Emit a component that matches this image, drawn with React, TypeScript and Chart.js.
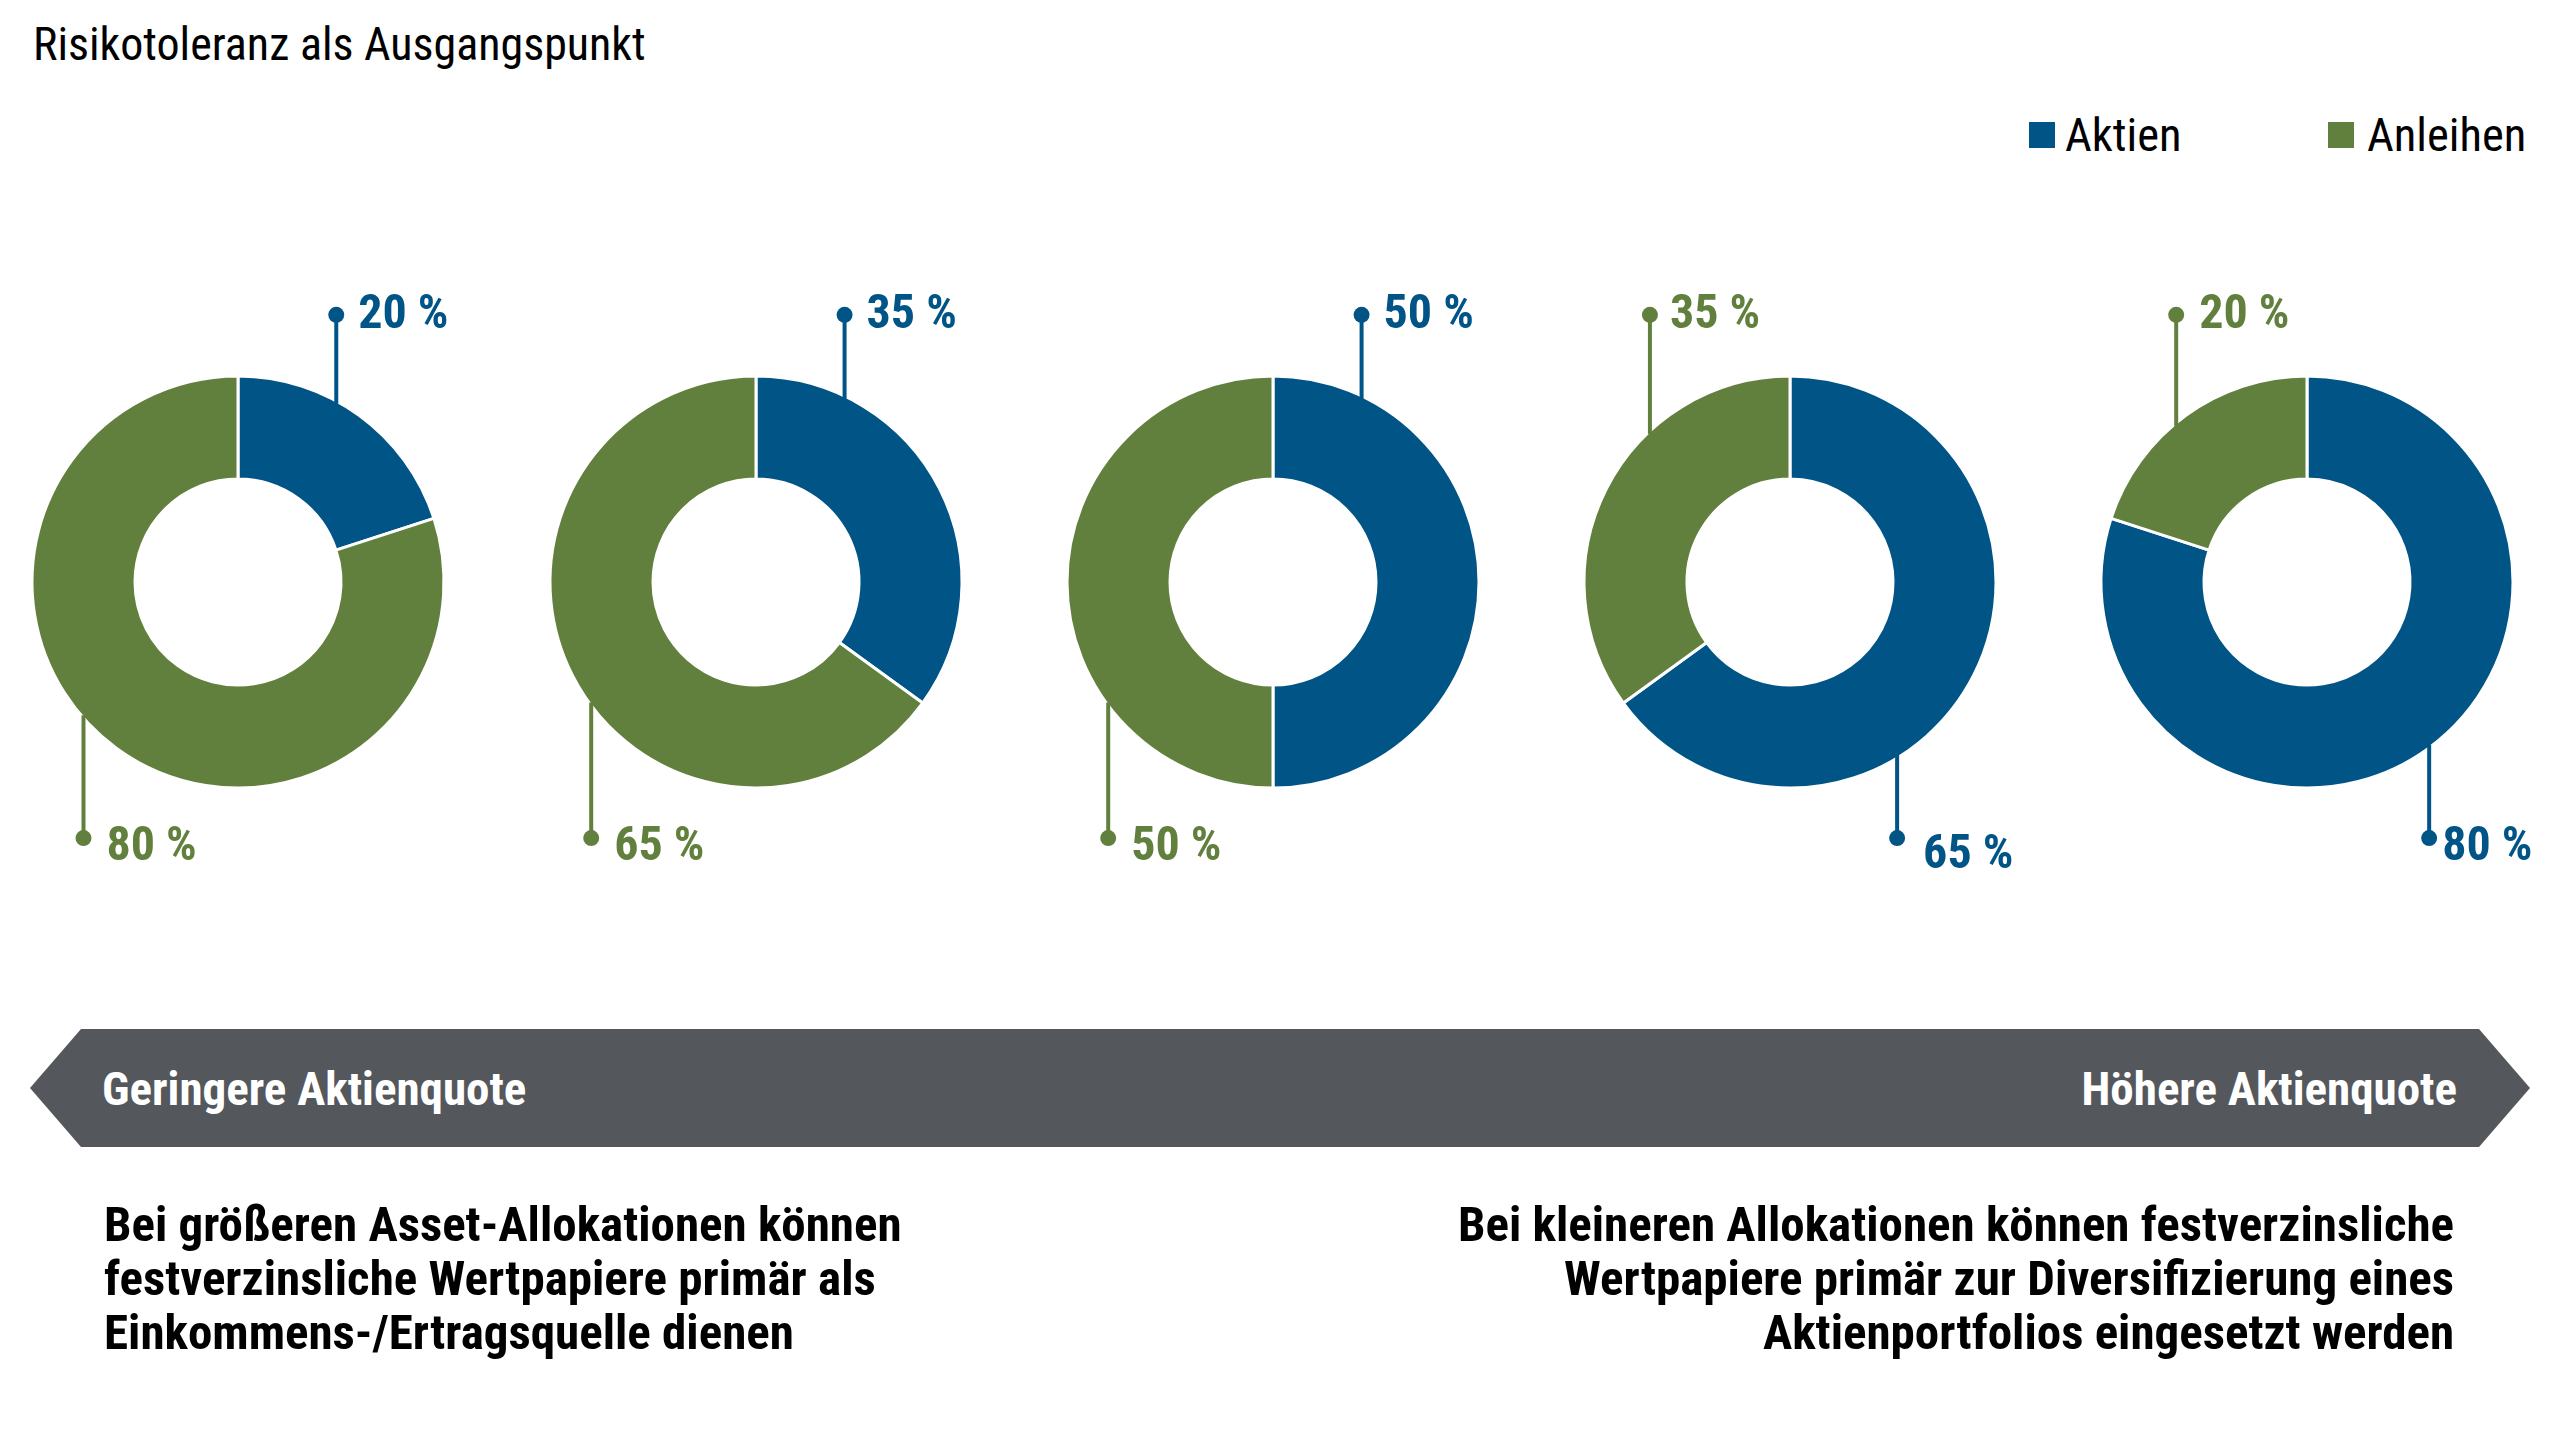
import React, { useEffect, useRef } from "react";
import { Chart, registerables } from "chart.js";

Chart.register(...registerables);

// ---------- data ----------
const seriesNames = ["Aktien", "Anleihen"];
const portfolios = ["Portfolio 1", "Portfolio 2", "Portfolio 3", "Portfolio 4", "Portfolio 5"];
const aktien = [20, 35, 50, 65, 80];
const anleihen = [80, 65, 50, 35, 20];
const topSeries = [0, 0, 0, 1, 1]; // series labelled above each donut
const titleText = "Risikotoleranz als Ausgangspunkt";
const arrowLeftText = "Geringere Aktienquote";
const arrowRightText = "Höhere Aktienquote";
const leftNote = [
  "Bei größeren Asset-Allokationen können",
  "festverzinsliche Wertpapiere primär als",
  "Einkommens-/Ertragsquelle dienen",
];
const rightNote = [
  "Bei kleineren Allokationen können festverzinsliche",
  "Wertpapiere primär zur Diversifizierung eines",
  "Aktienportfolios eingesetzt werden",
];

// ---------- layout / style ----------
const BLUE = "#005486";
const GREEN = "#62803D";
const GRAY = "#54575C";
const COLORS = [BLUE, GREEN];
const FONT = '"Roboto Condensed", "Liberation Sans Narrow", "DejaVu Sans Condensed", Roboto, sans-serif';

const centersX = [238, 756, 1273, 1790, 2307];
const CY = 582;
const CW = 520;
const CH = 640;
const RING = 206;

const topFx = [0.477, 0.43, 0.43, -0.68, -0.635];
const bottomFx = [-0.75, -0.8, -0.8, 0.52, 0.593];
const topTextDx = [22, 22, 22, 20, 23];
const bottomTextDx = [23, 23, 23, 26, 13];
const bottomTextDy = [5, 5, 5, 13, 5];
const TOP_DOT = -1.297;
const BOTTOM_DOT = 1.243;
const LABEL_FS = 48;

const leaderPlugin = {
  id: "leaders",
  afterDraw(chart: any, _args: any, opts: any) {
    const i = opts.index as number;
    const meta = chart.getDatasetMeta(0);
    const arc = meta.data[0];
    if (!arc) return;
    const { x, y, outerRadius } = arc.getProps(["x", "y", "outerRadius"], true);
    const r = outerRadius;
    const values = chart.data.datasets[0].data as number[];
    const ctx = chart.ctx;
    const items = [
      { seg: topSeries[i], fx: topFx[i], dot: TOP_DOT, dir: -1, tdx: topTextDx[i], tdy: -4 },
      { seg: 1 - topSeries[i], fx: bottomFx[i], dot: BOTTOM_DOT, dir: 1, tdx: bottomTextDx[i], tdy: bottomTextDy[i] },
    ];
    ctx.save();
    for (const it of items) {
      const color = COLORS[it.seg];
      const lx = x + it.fx * r;
      const edge = y + it.dir * (Math.sqrt(Math.max(r * r - (it.fx * r) ** 2, 0)) - 3);
      const dy = y + it.dot * r;
      ctx.strokeStyle = color;
      ctx.fillStyle = color;
      ctx.lineWidth = 4;
      ctx.beginPath();
      ctx.moveTo(lx, edge);
      ctx.lineTo(lx, dy);
      ctx.stroke();
      ctx.beginPath();
      ctx.arc(lx, dy, 8, 0, Math.PI * 2);
      ctx.fill();
      ctx.font = `bold ${LABEL_FS}px ${FONT}`;
      ctx.textAlign = "left";
      ctx.textBaseline = "alphabetic";
      const capCenter = dy + it.tdy;
      ctx.fillText(`${values[it.seg]} %`, lx + it.tdx, capCenter + LABEL_FS * 0.711 / 2);
    }
    ctx.restore();
  },
};

function Donut({ index }: { index: number }) {
  const ref = useRef<HTMLCanvasElement | null>(null);
  useEffect(() => {
    if (!ref.current) return;
    const padX = (CW - (2 * RING + 3)) / 2;
    const padY = (CH - (2 * RING + 3)) / 2;
    const chart = new Chart(ref.current, {
      type: "doughnut",
      data: {
        labels: seriesNames,
        datasets: [
          {
            label: portfolios[index],
            data: [aktien[index], anleihen[index]],
            backgroundColor: COLORS,
            borderColor: "#ffffff",
            borderWidth: 3,
          },
        ],
      },
      options: {
        animation: false,
        responsive: false,
        events: [],
        cutout: "50%",
        layout: { padding: { left: padX, right: padX, top: padY, bottom: padY } },
        plugins: {
          legend: { display: false },
          tooltip: { enabled: false },
          leaders: { index },
        } as any,
      },
      plugins: [leaderPlugin],
    });
    return () => chart.destroy();
  }, [index]);
  return (
    <canvas
      ref={ref}
      width={CW}
      height={CH}
      style={{ position: "absolute", left: centersX[index] - CW / 2, top: CY - CH / 2, width: CW, height: CH }}
    />
  );
}

export default function App() {
  const textBase: React.CSSProperties = { position: "absolute", fontFamily: FONT, whiteSpace: "nowrap", margin: 0 };
  return (
    <div style={{ position: "absolute", left: 0, top: 0, width: 2560, height: 1440, background: "#fff", overflow: "hidden" }}>
      <div style={{ ...textBase, left: 33, top: 21, fontSize: 46, lineHeight: "46px", color: "#000" }}>{titleText}</div>

      {/* legend */}
      <div style={{ position: "absolute", left: 2029, top: 122, width: 26, height: 26, background: BLUE }} />
      <div style={{ ...textBase, left: 2065, top: 112, fontSize: 46.5, lineHeight: "47px", color: "#000" }}>{seriesNames[0]}</div>
      <div style={{ position: "absolute", left: 2328, top: 122, width: 26, height: 26, background: GREEN }} />
      <div style={{ ...textBase, left: 2367, top: 112, fontSize: 46.5, lineHeight: "47px", color: "#000" }}>{seriesNames[1]}</div>

      {portfolios.map((_, i) => (
        <Donut key={i} index={i} />
      ))}

      {/* arrow */}
      <div
        style={{
          position: "absolute",
          left: 30,
          top: 1029,
          width: 2500,
          height: 118,
          background: GRAY,
          clipPath: "polygon(0px 59px, 51px 0px, 2449px 0px, 2500px 59px, 2449px 118px, 51px 118px)",
        }}
      />
      <div style={{ ...textBase, left: 102, top: 1065, fontSize: 47, lineHeight: "47px", fontWeight: 700, color: "#fff" }}>
        {arrowLeftText}
      </div>
      <div style={{ ...textBase, right: 2560 - 2457, top: 1065, fontSize: 47, lineHeight: "47px", fontWeight: 700, color: "#fff", textAlign: "right" }}>
        {arrowRightText}
      </div>

      {/* notes */}
      <div style={{ ...textBase, left: 104, top: 1198, fontSize: 49, lineHeight: "54px", fontWeight: 700, color: "#000" }}>
        {leftNote.map((l, k) => (
          <div key={k}>{l}</div>
        ))}
      </div>
      <div style={{ ...textBase, right: 2560 - 2454, top: 1198, fontSize: 49, lineHeight: "54px", fontWeight: 700, color: "#000", textAlign: "right" }}>
        {rightNote.map((l, k) => (
          <div key={k}>{l}</div>
        ))}
      </div>
    </div>
  );
}
